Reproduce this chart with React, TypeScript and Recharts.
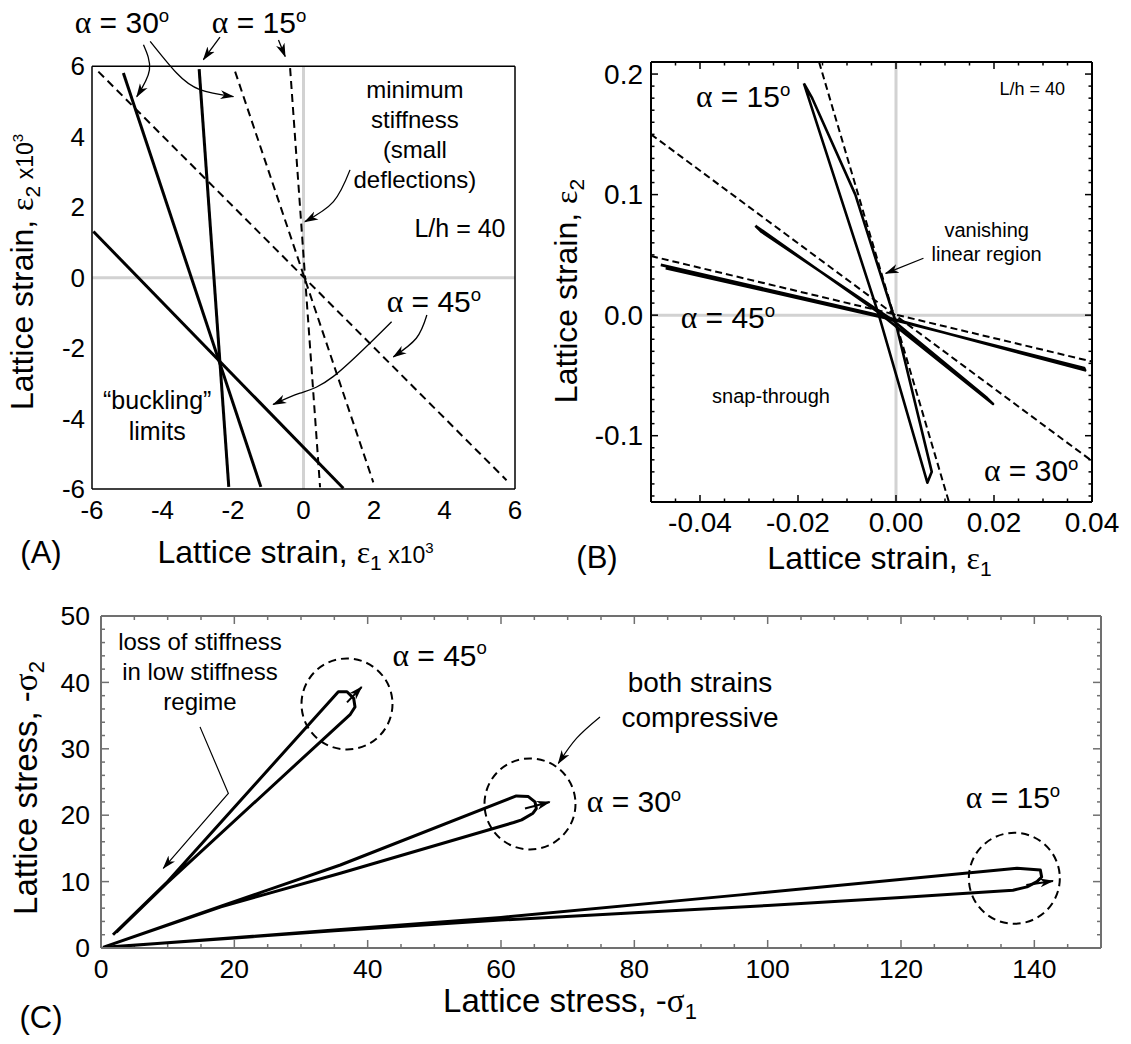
import React from 'react';
import { ComposedChart, Line, XAxis, YAxis, ReferenceLine, ReferenceDot, Label } from 'recharts';

const FONT = '"Liberation Sans", Arial, Helvetica, sans-serif';
const SYM = '"Liberation Serif", "Times New Roman", serif';

type Pt = { x: number; y: number };

// ---------------- Panel A data ----------------
const aTicks = [-6, -4, -2, 0, 2, 4, 6];
const aSolid45: Pt[] = [{ x: -5.96, y: 1.31 }, { x: 1.13, y: -5.98 }];
const aSolid30: Pt[] = [{ x: -5.11, y: 5.81 }, { x: -1.21, y: -5.94 }];
const aSolid15: Pt[] = [{ x: -2.96, y: 5.92 }, { x: -2.12, y: -5.94 }];
const aDash45: Pt[] = [{ x: -5.82, y: 5.85 }, { x: 5.76, y: -5.75 }];
const aDash30: Pt[] = [{ x: -1.94, y: 5.85 }, { x: 1.98, y: -5.81 }];
const aDash15: Pt[] = [{ x: -0.38, y: 5.95 }, { x: 0.47, y: -5.95 }];
const aArrow30a: Pt[] = [{ x: -4.54, y: 6.61 }, { x: -4.37, y: 5.9 }, { x: -4.73, y: 5.14 }];
const aArrow30b: Pt[] = [{ x: -4.35, y: 6.71 }, { x: -3.6, y: 5.81 }, { x: -2.94, y: 5.34 }, { x: -1.99, y: 5.14 }];
const aArrow15a: Pt[] = [{ x: -2.37, y: 6.83 }, { x: -2.84, y: 6.19 }];
const aArrow15b: Pt[] = [{ x: -0.71, y: 6.75 }, { x: -0.52, y: 6.28 }];
const aArrowMin: Pt[] = [{ x: 1.32, y: 3.06 }, { x: 0.85, y: 2.16 }, { x: 0.04, y: 1.59 }];
const aArrow45a: Pt[] = [{ x: 2.5, y: -1.25 }, { x: 0.84, y: -2.81 }, { x: -0.1, y: -3.28 }, { x: -0.86, y: -3.6 }];
const aArrow45b: Pt[] = [{ x: 3.5, y: -1.06 }, { x: 3.2, y: -1.72 }, { x: 2.55, y: -2.25 }];

// ---------------- Panel B data ----------------
const bXDomain: [number, number] = [-0.05, 0.04];
const bYDomain: [number, number] = [-0.155, 0.21];
const bXTicks = [-0.05, -0.045, -0.04, -0.035, -0.03, -0.025, -0.02, -0.015, -0.01, -0.005, 0, 0.005, 0.01, 0.015, 0.02, 0.025, 0.03, 0.035, 0.04];
const bXMajor = [-0.04, -0.02, 0, 0.02, 0.04];
const bYTicks = [-0.15, -0.14, -0.13, -0.12, -0.11, -0.1, -0.09, -0.08, -0.07, -0.06, -0.05, -0.04, -0.03, -0.02, -0.01, 0, 0.01, 0.02, 0.03, 0.04, 0.05, 0.06, 0.07, 0.08, 0.09, 0.1, 0.11, 0.12, 0.13, 0.14, 0.15, 0.16, 0.17, 0.18, 0.19, 0.2, 0.21];
const bYMajor = [-0.1, 0, 0.1, 0.2];
const bDash15: Pt[] = [{ x: -0.0157, y: 0.21 }, { x: 0.0108, y: -0.155 }];
const bDash30: Pt[] = [{ x: -0.05, y: 0.15 }, { x: 0.04, y: -0.121 }];
const bDash45: Pt[] = [{ x: -0.05, y: 0.049 }, { x: 0.04, y: -0.0385 }];
const bSolid15: Pt[] = [
  { x: -0.0188, y: 0.1923 }, { x: -0.0035, y: 0.0 }, { x: 0.0064, y: -0.139 }, { x: 0.0073, y: -0.13 },
  { x: -0.0002, y: -0.004 }, { x: -0.0083, y: 0.1 }, { x: -0.0171, y: 0.18 }, { x: -0.0188, y: 0.1923 },
];
const bSolid30: Pt[] = [
  { x: -0.0287, y: 0.0742 }, { x: -0.0035, y: 0.002 }, { x: 0.0198, y: -0.0736 }, { x: 0.0186, y: -0.0688 },
  { x: -0.0004, y: -0.005 }, { x: -0.0274, y: 0.069 }, { x: -0.0287, y: 0.0742 },
];
const bSolid45: Pt[] = [
  { x: -0.048, y: 0.0417 }, { x: -0.0032, y: -0.0003 }, { x: 0.0386, y: -0.0458 }, { x: 0.0384, y: -0.0438 },
  { x: 0.0004, y: -0.0048 }, { x: -0.047, y: 0.039 },
];
const bArrowVan: Pt[] = [{ x: 0.0056, y: 0.0472 }, { x: -0.0021, y: 0.0347 }];

// ---------------- Panel C data ----------------
const cXDomain: [number, number] = [0, 150];
const cYDomain: [number, number] = [0, 50];
const cXTicks = [0, 5, 10, 15, 20, 25, 30, 35, 40, 45, 50, 55, 60, 65, 70, 75, 80, 85, 90, 95, 100, 105, 110, 115, 120, 125, 130, 135, 140, 145, 150];
const cXMajor = [0, 20, 40, 60, 80, 100, 120, 140];
const cYTicks = [0, 2, 4, 6, 8, 10, 12, 14, 16, 18, 20, 22, 24, 26, 28, 30, 32, 34, 36, 38, 40, 42, 44, 46, 48, 50];
const cYMajor = [0, 10, 20, 30, 40, 50];
const c45: Pt[] = [
  { x: 1.8, y: 2.0 }, { x: 9.8, y: 9.8 }, { x: 35.6, y: 38.6 }, { x: 36.9, y: 38.6 }, { x: 37.9, y: 37.6 },
  { x: 38.1, y: 36.3 }, { x: 37.4, y: 35.2 }, { x: 9.8, y: 9.7 }, { x: 2.3, y: 2.4 },
];
const c45Tail: Pt[] = [{ x: 36.9, y: 37.0 }, { x: 39.1, y: 39.3 }];
const c30: Pt[] = [
  { x: 0.3, y: 0.1 }, { x: 18, y: 6.3 }, { x: 35.9, y: 12.5 }, { x: 62.3, y: 22.9 }, { x: 64.1, y: 22.8 },
  { x: 65.1, y: 22.0 }, { x: 65.3, y: 21.0 }, { x: 64.8, y: 20.3 }, { x: 63.1, y: 19.3 }, { x: 61.9, y: 18.9 },
  { x: 35.9, y: 11.25 }, { x: 18, y: 6.2 }, { x: 0.6, y: 0.2 },
];
const c30Tail: Pt[] = [{ x: 63.6, y: 21.0 }, { x: 67.3, y: 22.0 }];
const c15: Pt[] = [
  { x: 3.5, y: 0.3 }, { x: 35, y: 2.7 }, { x: 60, y: 4.6 }, { x: 95.9, y: 8.0 }, { x: 137.4, y: 12.0 },
  { x: 140.9, y: 11.75 }, { x: 141.1, y: 10.7 }, { x: 140.4, y: 10.0 }, { x: 138.9, y: 9.2 }, { x: 136.8, y: 8.7 },
  { x: 120, y: 7.6 }, { x: 100, y: 6.4 }, { x: 80, y: 5.3 }, { x: 60, y: 4.2 }, { x: 35, y: 2.6 }, { x: 0.5, y: 0.1 },
];
const c15Tail: Pt[] = [{ x: 138.8, y: 9.5 }, { x: 142.8, y: 10.1 }];
const cCircles: Pt[] = [{ x: 36.9, y: 36.75 }, { x: 64.35, y: 21.7 }, { x: 137.0, y: 10.5 }];
const cArrowLoss: Pt[] = [{ x: 14.85, y: 33.3 }, { x: 19.1, y: 23.3 }, { x: 9.35, y: 12.0 }];
const cArrowBoth: Pt[] = [{ x: 74.85, y: 34.8 }, { x: 71.35, y: 31.6 }, { x: 68.6, y: 27.8 }];

// ---------------- helpers ----------------
const isIn = (v: number, arr: number[]) => arr.some((m) => Math.abs(m - v) < 1e-9);

interface LabelOpts { side: 'bottom' | 'left'; majors: number[]; fontSize: number; gap: number; fmt: (v: number) => string }
function makeTickLabel(o: LabelOpts) {
  return (props: any) => {
    const x = Number(props.x);
    const y = Number(props.y);
    const v = Number(props.payload?.value);
    if (!isIn(v, o.majors)) return <g />;
    const fs = o.fontSize;
    if (o.side === 'bottom')
      return <text x={x} y={y + o.gap + fs * 0.35} textAnchor="middle" fontSize={fs} fontFamily={FONT} fill="#000" stroke="none">{o.fmt(v)}</text>;
    return <text x={x - o.gap} y={y + fs * 0.35} textAnchor="end" fontSize={fs} fontFamily={FONT} fill="#000" stroke="none">{o.fmt(v)}</text>;
  };
}

// inward tick marks on all four sides of a frame, drawn through the chart's own scales
interface FrameTickOpts {
  id: string; xTicks: number[]; xMajor: number[]; yTicks: number[]; yMajor: number[];
  xDom: [number, number]; yDom: [number, number]; plotW: number; plotH: number;
  majorLen: number; minorLen: number; color: string; width: number;
}
function frameTicks(o: FrameTickOpts) {
  const ux = (o.xDom[1] - o.xDom[0]) / o.plotW;
  const uy = (o.yDom[1] - o.yDom[0]) / o.plotH;
  const els: React.ReactNode[] = [];
  o.xTicks.forEach((v, i) => {
    const len = (isIn(v, o.xMajor) ? o.majorLen : o.minorLen) * uy;
    els.push(<ReferenceLine key={`${o.id}xb${i}`} segment={[{ x: v, y: o.yDom[0] }, { x: v, y: o.yDom[0] + len }]} stroke={o.color} strokeWidth={o.width} />);
    els.push(<ReferenceLine key={`${o.id}xt${i}`} segment={[{ x: v, y: o.yDom[1] }, { x: v, y: o.yDom[1] - len }]} stroke={o.color} strokeWidth={o.width} />);
  });
  o.yTicks.forEach((v, i) => {
    const len = (isIn(v, o.yMajor) ? o.majorLen : o.minorLen) * ux;
    els.push(<ReferenceLine key={`${o.id}yl${i}`} segment={[{ x: o.xDom[0], y: v }, { x: o.xDom[0] + len, y: v }]} stroke={o.color} strokeWidth={o.width} />);
    els.push(<ReferenceLine key={`${o.id}yr${i}`} segment={[{ x: o.xDom[1], y: v }, { x: o.xDom[1] - len, y: v }]} stroke={o.color} strokeWidth={o.width} />);
  });
  return els;
}

type Part = { t: string; size: number; dy?: number; sym?: boolean };
function titleText(parts: Part[], cx: number, cy: number, rotate: boolean, key?: string) {
  return (
    <text key={key} x={cx} y={cy} textAnchor="middle" fill="#000" stroke="none" fontFamily={FONT}
      transform={rotate ? `rotate(-90 ${cx} ${cy})` : undefined} style={{ whiteSpace: 'pre' }}>
      {parts.map((p, i) => (
        <tspan key={i} fontSize={p.size} dy={p.dy || 0} fontFamily={p.sym ? SYM : FONT}>{p.t}</tspan>
      ))}
    </text>
  );
}

const strainParts = (sub: string, scaled: boolean): Part[] => {
  const base: Part[] = [
    { t: 'Lattice strain, ', size: 32 },
    { t: 'ε', size: 32, sym: true },
    { t: sub, size: 21, dy: 7 },
  ];
  if (scaled) {
    base.push({ t: ' x10', size: 23, dy: -7 });
    base.push({ t: '3', size: 15, dy: -10 });
  }
  return base;
};
const stressParts = (sub: string): Part[] => [
  { t: 'Lattice stress, -', size: 33 },
  { t: 'σ', size: 33, sym: true },
  { t: sub, size: 22, dy: 7 },
];

const panelLetter = (s: string, x: number, y: number) => (
  <text key={s} x={x} y={y} textAnchor="middle" fontSize={31} fontFamily={FONT} fill="#000" stroke="none">{s}</text>
);

function alphaRender(deg: string, size = 30) {
  return (cx: number, cy: number) => (
    <text x={cx} y={cy + 0.35 * size} textAnchor="middle" fontSize={size} fontFamily={FONT} fill="#000" style={{ whiteSpace: 'pre' }}>
      <tspan fontFamily={SYM} fontSize={size * 1.05}>α</tspan>
      <tspan>{' = ' + deg}</tspan>
      <tspan fontSize={size * 0.62} dy={-size * 0.38}>o</tspan>
    </text>
  );
}

function linesRender(lines: string[], size: number, lh: number) {
  return (cx: number, cy: number) => (
    <text x={cx} y={cy - ((lines.length - 1) * lh) / 2 + 0.35 * size} textAnchor="middle" fontSize={size} fontFamily={FONT} fill="#000">
      {lines.map((l, i) => (
        <tspan key={i} x={cx} dy={i === 0 ? 0 : lh}>{l}</tspan>
      ))}
    </text>
  );
}

function note(key: string, p: Pt, render: (cx: number, cy: number) => React.ReactNode) {
  return (
    <ReferenceDot key={key} x={p.x} y={p.y} r={0} fill="none" stroke="none" ifOverflow="visible"
      label={(lp: any) => {
        const vb = lp.viewBox || {};
        return render((vb.x || 0) + (vb.width || 0) / 2, (vb.y || 0) + (vb.height || 0) / 2);
      }} />
  );
}

const solidLine = (key: string, data: Pt[], w = 3) => (
  <Line key={key} data={data} dataKey="y" type="linear" stroke="#000" strokeWidth={w} dot={false} activeDot={false}
    isAnimationActive={false} legendType="none" strokeLinejoin="round" />
);
const dashedLine = (key: string, data: Pt[], dash = '8 5') => (
  <Line key={key} data={data} dataKey="y" type="linear" stroke="#000" strokeWidth={2} strokeDasharray={dash} dot={false}
    activeDot={false} isAnimationActive={false} legendType="none" />
);
const arrowLine = (key: string, data: Pt[], curve: 'natural' | 'linear' = 'natural', w = 1.3) => (
  <Line key={key} data={data} dataKey="y" type={curve} stroke="#000" strokeWidth={w} dot={false} activeDot={false}
    isAnimationActive={false} legendType="none" markerEnd="url(#ah)" />
);

// ---------------- Panel A ----------------
function PanelA() {
  const fmt = (v: number) => String(v);
  return (
    <ComposedChart width={540} height={600} margin={{ top: 17, right: 25, bottom: 0, left: 0 }}>
      <XAxis type="number" dataKey="x" domain={[-6, 6]} ticks={aTicks} interval={0} tickSize={0} tickMargin={0}
        tickLine={false} axisLine={{ stroke: '#000', strokeWidth: 1.5 }} height={111}
        tick={makeTickLabel({ side: 'bottom', majors: aTicks, fontSize: 26, gap: 21, fmt })}>
        <Label content={(p: any) => {
          const vb = p.viewBox || { x: 92, y: 489, width: 423 };
          return (
            <g>
              {titleText(strainParts('1', true), vb.x + vb.width / 2 - 8, vb.y + 74, false)}
              {panelLetter('(A)', vb.x - 51, vb.y + 74)}
            </g>
          );
        }} />
      </XAxis>
      <YAxis type="number" domain={[-6, 7.4]} ticks={aTicks} interval={0} tickSize={0} tickMargin={0} tickLine={false}
        axisLine={false} width={92}
        tick={makeTickLabel({ side: 'left', majors: aTicks, fontSize: 26, gap: 7, fmt })}>
        <Label content={(p: any) => {
          const vb = p.viewBox || { x: 0, y: 17 };
          return titleText(strainParts('2', true), vb.x + 33, 272, true);
        }} />
      </YAxis>
      <ReferenceLine segment={[{ x: 0, y: -6 }, { x: 0, y: 6 }]} stroke="#d2d2d2" strokeWidth={3} />
      <ReferenceLine y={0} stroke="#d2d2d2" strokeWidth={3} />
      <ReferenceLine y={6} stroke="#000" strokeWidth={1.5} />
      <ReferenceLine segment={[{ x: -6, y: -6 }, { x: -6, y: 6 }]} stroke="#000" strokeWidth={1.5} />
      <ReferenceLine segment={[{ x: 6, y: -6 }, { x: 6, y: 6 }]} stroke="#000" strokeWidth={1.5} />
      {dashedLine('ad45', aDash45)}
      {dashedLine('ad30', aDash30)}
      {dashedLine('ad15', aDash15)}
      {solidLine('as45', aSolid45)}
      {solidLine('as30', aSolid30)}
      {solidLine('as15', aSolid15)}
      {arrowLine('aa30a', aArrow30a)}
      {arrowLine('aa30b', aArrow30b)}
      {arrowLine('aa15a', aArrow15a, 'linear')}
      {arrowLine('aa15b', aArrow15b, 'linear')}
      {arrowLine('aamin', aArrowMin)}
      {arrowLine('aa45a', aArrow45a)}
      {arrowLine('aa45b', aArrow45b)}
      {note('an30', { x: -5.15, y: 7.24 }, alphaRender('30'))}
      {note('an15', { x: -1.26, y: 7.24 }, alphaRender('15'))}
      {note('an45', { x: 3.7, y: -0.69 }, alphaRender('45'))}
      {note('anmin', { x: 3.16, y: 4.055 }, linesRender(['minimum', 'stiffness', '(small', 'deflections)'], 24, 30))}
      {note('anlh', { x: 4.44, y: 1.41 }, linesRender(['L/h = 40'], 25, 30))}
      {note('anbuck', { x: -4.15, y: -3.92 }, linesRender(['\u201Cbuckling\u201D', 'limits'], 25, 31.5))}
    </ComposedChart>
  );
}

// ---------------- Panel B ----------------
function PanelB() {
  const fx = (v: number) => v.toFixed(2);
  const fy = (v: number) => v.toFixed(1);
  return (
    <ComposedChart width={591} height={600} margin={{ top: 61, right: 38, bottom: 0, left: 0 }}>
      <XAxis type="number" dataKey="x" domain={bXDomain} ticks={bXTicks} interval={0} tickSize={0} tickMargin={0}
        tickLine={false} axisLine={{ stroke: '#000', strokeWidth: 2 }} height={98}
        tick={makeTickLabel({ side: 'bottom', majors: bXMajor, fontSize: 28, gap: 20, fmt: fx })}>
        <Label content={(p: any) => {
          const vb = p.viewBox || { x: 111, y: 502, width: 441 };
          return (
            <g>
              {titleText(strainParts('1', false), vb.x + vb.width / 2 + 8, vb.y + 67, false)}
              {panelLetter('(B)', vb.x - 54, vb.y + 66)}
            </g>
          );
        }} />
      </XAxis>
      <XAxis xAxisId="top" orientation="top" type="number" domain={bXDomain} ticks={bXMajor} tick={false} tickLine={false}
        axisLine={{ stroke: '#000', strokeWidth: 2 }} height={1} />
      <YAxis type="number" domain={bYDomain} ticks={bYTicks} interval={0} tickSize={0} tickMargin={0} tickLine={false}
        axisLine={{ stroke: '#000', strokeWidth: 2 }} width={111}
        tick={makeTickLabel({ side: 'left', majors: bYMajor, fontSize: 28, gap: 8, fmt: fy })}>
        <Label content={(p: any) => {
          const vb = p.viewBox || { x: 0 };
          return titleText(strainParts('2', false), vb.x + 37, 291, true);
        }} />
      </YAxis>
      <YAxis yAxisId="right" orientation="right" type="number" domain={bYDomain} ticks={bYMajor} tick={false} tickLine={false}
        axisLine={{ stroke: '#000', strokeWidth: 2 }} width={1} />
      <ReferenceLine x={0} stroke="#d2d2d2" strokeWidth={3} />
      <ReferenceLine y={0} stroke="#d2d2d2" strokeWidth={3} />
      {frameTicks({ id: 'b', xTicks: bXTicks, xMajor: bXMajor, yTicks: bYTicks, yMajor: bYMajor, xDom: bXDomain, yDom: bYDomain,
        plotW: 441, plotH: 440, majorLen: 7, minorLen: 3.5, color: '#000', width: 1.5 })}
      {dashedLine('bd15', bDash15, '7 4')}
      {dashedLine('bd30', bDash30, '7 4')}
      {dashedLine('bd45', bDash45, '7 4')}
      {solidLine('bs15', bSolid15, 2.6)}
      {solidLine('bs30', bSolid30, 2.6)}
      {solidLine('bs45', bSolid45, 2.6)}
      {arrowLine('bav', bArrowVan, 'linear')}
      {note('bn15', { x: -0.0312, y: 0.181 }, alphaRender('15'))}
      {note('bn45', { x: -0.0343, y: -0.002 }, alphaRender('45'))}
      {note('bn30', { x: 0.0276, y: -0.129 }, alphaRender('30'))}
      {note('bnlh', { x: 0.0278, y: 0.1875 }, linesRender(['L/h = 40'], 18, 22))}
      {note('bnvan', { x: 0.0185, y: 0.0608 }, linesRender(['vanishing', 'linear region'], 20, 24))}
      {note('bnsnap', { x: -0.0255, y: -0.0667 }, linesRender(['snap-through'], 20, 24))}
    </ComposedChart>
  );
}

// ---------------- Panel C ----------------
function PanelC() {
  const fmt = (v: number) => String(v);
  const gray = '#707070';
  return (
    <ComposedChart width={1131} height={444} margin={{ top: 15, right: 29, bottom: 0, left: 0 }}>
      <XAxis type="number" dataKey="x" domain={cXDomain} ticks={cXTicks} interval={0} tickSize={0} tickMargin={0}
        tickLine={false} axisLine={{ stroke: gray, strokeWidth: 2 }} height={96}
        tick={makeTickLabel({ side: 'bottom', majors: cXMajor, fontSize: 26.5, gap: 21, fmt })}>
        <Label content={(p: any) => {
          const vb = p.viewBox || { x: 101, y: 348, width: 1000 };
          return (
            <g>
              {titleText(stressParts('1'), vb.x + vb.width / 2 - 31, vb.y + 64, false)}
              {panelLetter('(C)', vb.x - 60, vb.y + 80)}
            </g>
          );
        }} />
      </XAxis>
      <XAxis xAxisId="top" orientation="top" type="number" domain={cXDomain} ticks={cXMajor} tick={false} tickLine={false}
        axisLine={{ stroke: gray, strokeWidth: 2 }} height={1} />
      <YAxis type="number" domain={cYDomain} ticks={cYTicks} interval={0} tickSize={0} tickMargin={0} tickLine={false}
        axisLine={{ stroke: gray, strokeWidth: 2 }} width={101}
        tick={makeTickLabel({ side: 'left', majors: cYMajor, fontSize: 26.5, gap: 11, fmt })}>
        <Label content={(p: any) => {
          const vb = p.viewBox || { x: 0 };
          return titleText(stressParts('2'), vb.x + 37, 188, true);
        }} />
      </YAxis>
      <YAxis yAxisId="right" orientation="right" type="number" domain={cYDomain} ticks={cYMajor} tick={false} tickLine={false}
        axisLine={{ stroke: gray, strokeWidth: 2 }} width={1} />
      {frameTicks({ id: 'c', xTicks: cXTicks, xMajor: cXMajor, yTicks: cYTicks, yMajor: cYMajor, xDom: cXDomain, yDom: cYDomain,
        plotW: 1000, plotH: 332, majorLen: 8, minorLen: 4, color: gray, width: 1.5 })}
      {cCircles.map((c, i) => (
        <ReferenceDot key={'cc' + i} x={c.x} y={c.y} r={45.5} fill="none" stroke="#000" strokeWidth={2}
          strokeDasharray="8 5" ifOverflow="visible" />
      ))}
      {solidLine('c45', c45)}
      {solidLine('c30', c30)}
      {solidLine('c15', c15)}
      {arrowLine('c45t', c45Tail, 'linear', 2)}
      {arrowLine('c30t', c30Tail, 'linear', 2)}
      {arrowLine('c15t', c15Tail, 'linear', 2)}
      {arrowLine('caloss', cArrowLoss, 'linear', 1.2)}
      {arrowLine('caboth', cArrowBoth, 'natural', 1.2)}
      {note('cnloss', { x: 14.85, y: 41.7 }, linesRender(['loss of stiffness', 'in low stiffness', 'regime'], 24, 30))}
      {note('cnboth', { x: 89.85, y: 37.45 }, linesRender(['both strains', 'compressive'], 28, 35))}
      {note('cn45', { x: 50.8, y: 44.1 }, alphaRender('45'))}
      {note('cn30', { x: 79.95, y: 22.0 }, alphaRender('30'))}
      {note('cn15', { x: 136.8, y: 22.6 }, alphaRender('15'))}
    </ComposedChart>
  );
}

export default function App() {
  return (
    <div style={{ position: 'absolute', left: 0, top: 0, width: 1131, height: 1044, background: '#fff' }}>
      <svg width={0} height={0} style={{ position: 'absolute', left: 0, top: 0 }}>
        <defs>
          <marker id="ah" viewBox="0 0 14 10" refX="13" refY="5" markerWidth="14" markerHeight="10"
            markerUnits="userSpaceOnUse" orient="auto">
            <path d="M0,0.5 L14,5 L0,9.5 L4,5 Z" fill="#000" />
          </marker>
        </defs>
      </svg>
      <div style={{ position: 'absolute', left: 0, top: 0 }}><PanelA /></div>
      <div style={{ position: 'absolute', left: 540, top: 0 }}><PanelB /></div>
      <div style={{ position: 'absolute', left: 0, top: 600 }}><PanelC /></div>
    </div>
  );
}
